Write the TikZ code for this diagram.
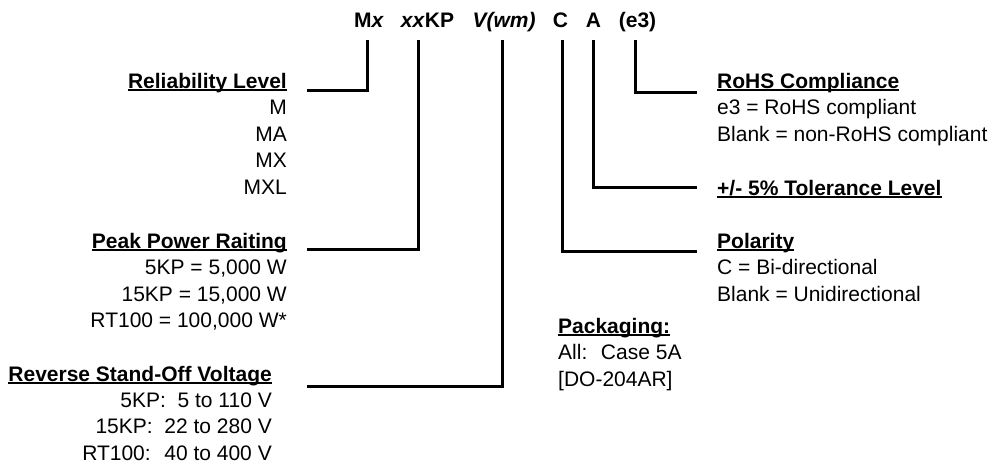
\documentclass[tikz,border=0pt]{standalone}
\usepackage{fontspec}
\setmainfont{Liberation Sans}
\newcommand\ulhd[1]{\setbox0\hbox{#1}\rlap{\rule[-3pt]{\wd0}{2pt}}\box0}
\tikzset{
  lead/.style={line width=3pt},
  txt/.style={inner sep=0pt, font=\fontsize{21}{26}\selectfont},
  head/.style={txt, font=\fontsize{21}{26}\selectfont\bfseries},
  code/.style={head, anchor=base, text depth=0pt, outer ysep=13pt}
}

\begin{document}
\begin{tikzpicture}[x=1pt, y=-1pt]
  \useasboundingbox (0,0) rectangle (1002,466);
  % part number
  \node[code] (pm)  at (369,27)   {M\textit{x}};
  \node[code] (pkp) at (427.5,27) {\textit{xx}KP};
  \node[code] (pv)  at (504,27)   {\textit{V(wm)}};
  \node[code] (pc)  at (560.5,27) {C};
  \node[code] (pa)  at (593.5,27) {A};
  \node[code] (pe)  at (637.5,27) {(e3)};
  % left side
  \node[head, anchor=base east] (rel) at (287,88) {\ulhd{Reliability Level}};
  \foreach \t [count=\i] in {M,MA,MX,MXL}
    \node[txt, anchor=base east] at (287,88+26.6*\i) {\t};
  \node[head, anchor=base east] (pwr) at (287,248) {\ulhd{Peak Power Raiting}};
  \foreach \t [count=\i] in {{5KP = 5,000 W},{15KP = 15,000 W},{RT100 = 100,000 W*\hspace{6pt}}}
    \node[txt, anchor=base east] at (287,248+26.6*\i) {\t};
  \node[head, anchor=base east] (vwm) at (272,381) {\ulhd{Reverse Stand-Off Voltage}};
  \foreach \t [count=\i] in {{5KP:~ 5 to 110 V},{15KP:~ 22 to 280 V},{RT100:~ 40 to 400 V}}
    \node[txt, anchor=base east] at (272,381+26.4*\i) {\t};
  % right side
  \node[head, anchor=base west] (rohs) at (717,88) {\ulhd{RoHS Compliance}};
  \foreach \t [count=\i] in {{e3 = RoHS compliant},{Blank = non-RoHS compliant}}
    \node[txt, anchor=base west] at (717,88+26.8*\i) {\t};
  \node[head, anchor=base west] (tol) at (717,195) {\ulhd{+/- 5\% Tolerance Level}};
  \node[head, anchor=base west] (pol) at (717,248) {\ulhd{Polarity}};
  \foreach \t [count=\i] in {{C = Bi-directional},{Blank = Unidirectional}}
    \node[txt, anchor=base west] at (717,248+26.8*\i) {\t};
  \node[head, anchor=base west] (pkg) at (558,333) {\ulhd{Packaging:}};
  \foreach \t [count=\i] in {{All:~ Case 5A},{[DO-204AR]}}
    \node[txt, anchor=base west] at (558,333+26.6*\i) {\t};
  % leads
  \coordinate (relend) at (307,90);
  \coordinate (pwrend) at (307,249);
  \coordinate (vwmend) at (307,386);
  \coordinate (rohsend) at (697,92);
  \coordinate (tolend) at (697,187);
  \coordinate (polend) at (697,251);
  \draw[lead] ([xshift=-2pt]pm.south) |- (relend);
  \draw[lead] ([xshift=-9.5pt]pkp.south) |- (pwrend);
  \draw[lead] ([xshift=-2pt]pv.south) |- (vwmend);
  \draw[lead] ([xshift=1.5pt]pc.south) |- (polend);
  \draw[lead] (pa.south) |- (tolend);
  \draw[lead] ([xshift=-2.5pt]pe.south) |- (rohsend);
\end{tikzpicture}
\end{document}
